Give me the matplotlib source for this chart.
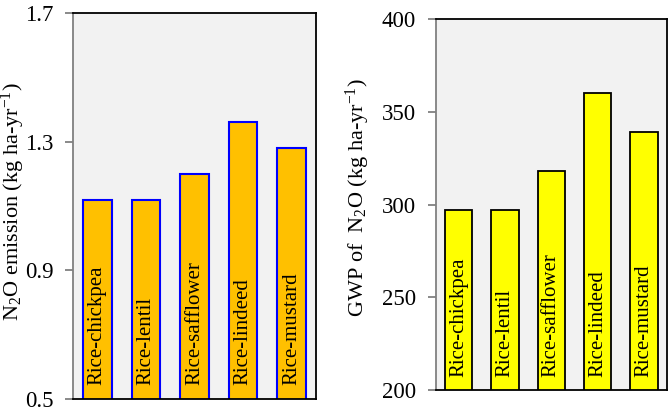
import matplotlib
matplotlib.use('Agg')
import matplotlib.pyplot as plt

plt.rcParams['font.family'] = ['Liberation Serif', 'DejaVu Serif']
plt.rcParams['mathtext.fontset'] = 'custom'
plt.rcParams['mathtext.rm'] = 'Liberation Serif'
plt.rcParams['mathtext.it'] = 'Liberation Serif:italic'

# ─── data ─────────────────────────────────────────────────────────────────────
systems = ["Rice-chickpea", "Rice-lentil", "Rice-safflower", "Rice-lindeed", "Rice-mustard"]
n2o_emission = [1.12, 1.12, 1.20, 1.36, 1.28]      # kg ha-yr-1
gwp_n2o      = [297, 297, 318, 360, 339]          # kg ha-yr-1

n2o_ticks = [0.5, 0.9, 1.3, 1.7]
gwp_ticks = [200, 250, 300, 350, 400]


def style_axes(ax):
    ax.set_facecolor("#F2F2F2")
    for side in ("top", "right", "bottom"):
        ax.spines[side].set_color("black")
        ax.spines[side].set_linewidth(1.3)
    ax.spines["left"].set_color("#808080")
    ax.spines["left"].set_linewidth(1.3)
    ax.tick_params(axis="y", direction="out", length=6, width=1.3,
                   color="#808080", labelsize=16.5, pad=8)
    ax.set_xticks([])
    ax.set_xlim(-0.5, len(systems) - 0.5)


def bar_labels(ax, base, pad):
    for i, name in enumerate(systems):
        ax.text(i, base + pad, name, rotation=90, ha="center", va="bottom",
                fontsize=15, color="black")


fig = plt.figure(figsize=(6.68, 4.13), dpi=100)

# left panel: N2O emission
ax1 = fig.add_axes([0.1093, 0.0339, 0.3638, 0.9346])
x = range(len(systems))
ax1.bar(x, n2o_emission, width=0.59, color="#FFC000",
        edgecolor="#0000FF", linewidth=1.5, zorder=2)
ax1.set_ylim(0.5, 1.7)
ax1.set_yticks(n2o_ticks)
ax1.set_yticklabels([f"{t:.1f}" for t in n2o_ticks])
style_axes(ax1)
bar_labels(ax1, 0.5, 0.045)
fig.text(0.0195, 0.512, r"N$_2$O emission (kg ha-yr$^{-1}$)", rotation=90,
         ha="center", va="center", fontsize=16)

# right panel: GWP of N2O
ax2 = fig.add_axes([0.652, 0.0557, 0.3465, 0.8976])
ax2.bar(x, gwp_n2o, width=0.59, color="#FFFF00",
        edgecolor="black", linewidth=1.3, zorder=2)
ax2.set_ylim(200, 400)
ax2.set_yticks(gwp_ticks)
style_axes(ax2)
bar_labels(ax2, 200, 7)
fig.text(0.536, 0.522, r"GWP of  N$_2$O (kg ha-yr$^{-1}$)", rotation=90,
         ha="center", va="center", fontsize=16)

fig.savefig("out.png", dpi=100)
plt.close(fig)
